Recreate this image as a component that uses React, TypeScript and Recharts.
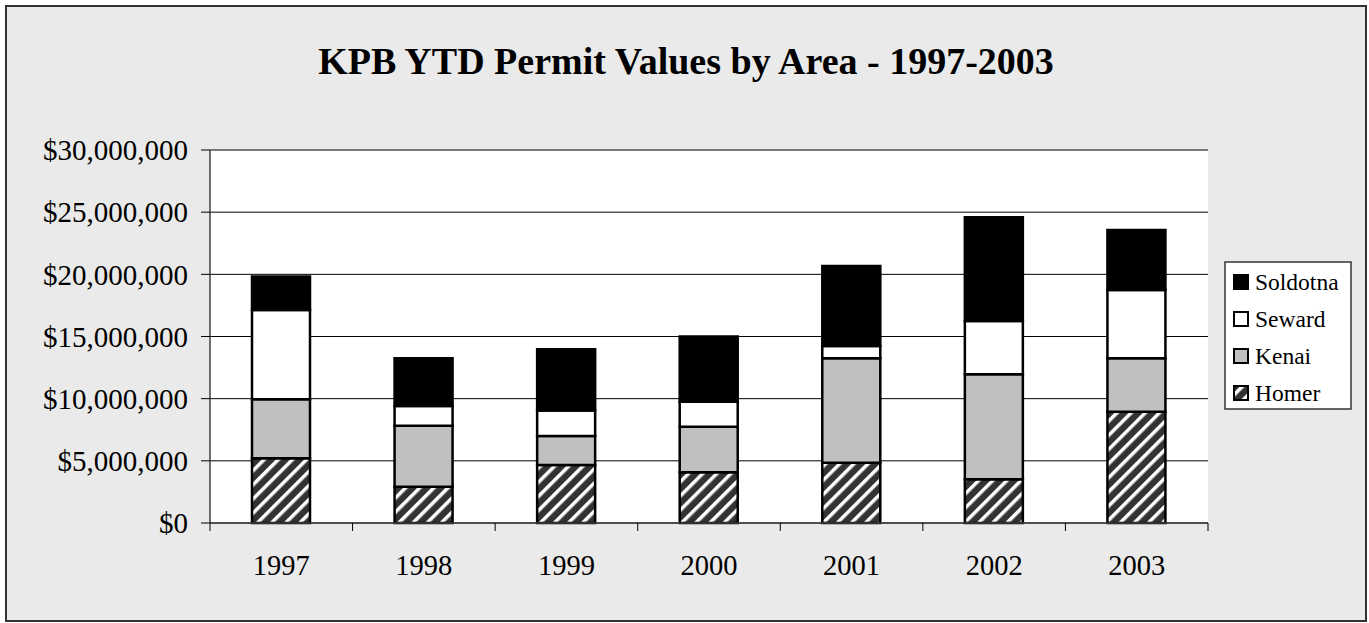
import React from 'react';
import { BarChart, Bar, XAxis, YAxis, CartesianGrid } from 'recharts';

const years = ['1997', '1998', '1999', '2000', '2001', '2002', '2003'];
const homer = [5200000, 2920000, 4670000, 4080000, 4850000, 3510000, 8950000];
const kenai = [4750000, 4910000, 2330000, 3670000, 8400000, 8450000, 4300000];
const seward = [7180000, 1580000, 2040000, 2010000, 990000, 4290000, 5490000];
const soldotna = [2690000, 3840000, 4930000, 5230000, 6440000, 8340000, 4830000];
const yTicks = [0, 5000000, 10000000, 15000000, 20000000, 25000000, 30000000];
const legendOrder = ['Soldotna', 'Seward', 'Kenai', 'Homer'];

const data = years.map((year, i) => ({
  year,
  Homer: homer[i],
  Kenai: kenai[i],
  Seward: seward[i],
  Soldotna: soldotna[i],
}));

const FONT = '"Liberation Serif", "Times New Roman", Times, serif';

const fills: Record<string, string> = {
  Soldotna: '#000000',
  Seward: '#ffffff',
  Kenai: '#c0c0c0',
  Homer: 'url(#homerStripes)',
};

const fmt = (v: number) => '$' + v.toLocaleString('en-US');

const XTick = (props: any) => {
  const { x, y, payload, index, visibleTicksCount, width } = props;
  const half = payload && payload.offset ? payload.offset : width / visibleTicksCount / 2;
  return (
    <g>
      <line x1={x - half} x2={x - half} y1={y} y2={y + 8} stroke="#000" strokeWidth={1} />
      {index === visibleTicksCount - 1 && (
        <line x1={x + half} x2={x + half} y1={y} y2={y + 8} stroke="#000" strokeWidth={1} />
      )}
      <text x={x} y={y + 52} textAnchor="middle" fontSize={28.5} fontFamily={FONT} fill="#000">
        {payload.value}
      </text>
    </g>
  );
};

const StripeDefs = ({ id }: { id: string }) => (
  <defs>
    <pattern id={id} patternUnits="userSpaceOnUse" width="10" height="10" patternTransform="rotate(45)">
      <rect x="0" y="0" width="10" height="10" fill="#333333" />
      <rect x="0" y="0" width="3.5" height="10" fill="#ffffff" />
    </pattern>
  </defs>
);

export default function App() {
  return (
    <div style={{ position: 'absolute', left: 0, top: 0, width: 1369, height: 623, background: '#fff' }}>
      <div
        style={{
          position: 'absolute',
          left: 5,
          top: 5,
          width: 1362,
          height: 617,
          background: '#eaeaea',
          border: '2px solid #333',
          boxSizing: 'border-box',
        }}
      />
      <div
        style={{
          position: 'absolute',
          left: 5,
          width: 1362,
          top: 39,
          textAlign: 'center',
          fontFamily: FONT,
          fontWeight: 'bold',
          fontSize: 38,
          lineHeight: '44px',
          color: '#000',
        }}
      >
        KPB YTD Permit Values by Area - 1997-2003
      </div>
      <div style={{ position: 'absolute', left: 0, top: 0 }}>
        <BarChart
          width={1369}
          height={623}
          data={data}
          margin={{ top: 150, right: 161, bottom: 40, left: 10 }}
          barSize={58}
        >
          <StripeDefs id="homerStripes" />
          <CartesianGrid vertical={false} stroke="#000" fill="#ffffff" fillOpacity={1} horizontalValues={yTicks} />
          <XAxis
            xAxisId="top"
            orientation="top"
            dataKey="year"
            height={0}
            tick={false}
            tickLine={false}
            axisLine={{ stroke: '#808080', strokeWidth: 2 }}
          />
          <XAxis
            dataKey="year"
            height={60}
            tickLine={false}
            tickSize={0}
            tickMargin={0}
            interval={0}
            axisLine={{ stroke: '#404040', strokeWidth: 1.5 }}
            tick={<XTick />}
          />
          <YAxis
            width={200}
            domain={[0, 30000000]}
            ticks={yTicks}
            interval={0}
            tickFormatter={fmt}
            tickSize={9}
            tickMargin={13}
            tickLine={{ stroke: '#000' }}
            axisLine={{ stroke: '#404040', strokeWidth: 1.5 }}
            tick={{ fontSize: 29, fontFamily: FONT, fill: '#000' }}
          />
          <YAxis
            yAxisId="right"
            orientation="right"
            width={0}
            domain={[0, 30000000]}
            tick={false}
            tickLine={false}
            axisLine={{ stroke: '#808080', strokeWidth: 2 }}
          />
          <Bar dataKey="Homer" stackId="a" fill={fills.Homer} stroke="#000" strokeWidth={2.5} isAnimationActive={false} />
          <Bar dataKey="Kenai" stackId="a" fill={fills.Kenai} stroke="#000" strokeWidth={2.5} isAnimationActive={false} />
          <Bar dataKey="Seward" stackId="a" fill={fills.Seward} stroke="#000" strokeWidth={2.5} isAnimationActive={false} />
          <Bar dataKey="Soldotna" stackId="a" fill={fills.Soldotna} stroke="#000" strokeWidth={2.5} isAnimationActive={false} />
        </BarChart>
      </div>
      <svg
        width={128}
        height={149}
        style={{ position: 'absolute', left: 1224, top: 261 }}
      >
        <StripeDefs id="legendStripes" />
        <rect x={1} y={1} width={126} height={147} fill="#fff" stroke="#333" strokeWidth={1.5} />
        {legendOrder.map((name, i) => {
          const cy = 21 + i * 37;
          return (
            <g key={name}>
              <rect
                x={10}
                y={cy - 7}
                width={14}
                height={14}
                fill={name === 'Homer' ? 'url(#legendStripes)' : fills[name]}
                stroke="#000"
                strokeWidth={2}
              />
              <text x={31} y={cy + 8} fontFamily={FONT} fontSize={23.5} fill="#000">
                {name}
              </text>
            </g>
          );
        })}
      </svg>
    </div>
  );
}
